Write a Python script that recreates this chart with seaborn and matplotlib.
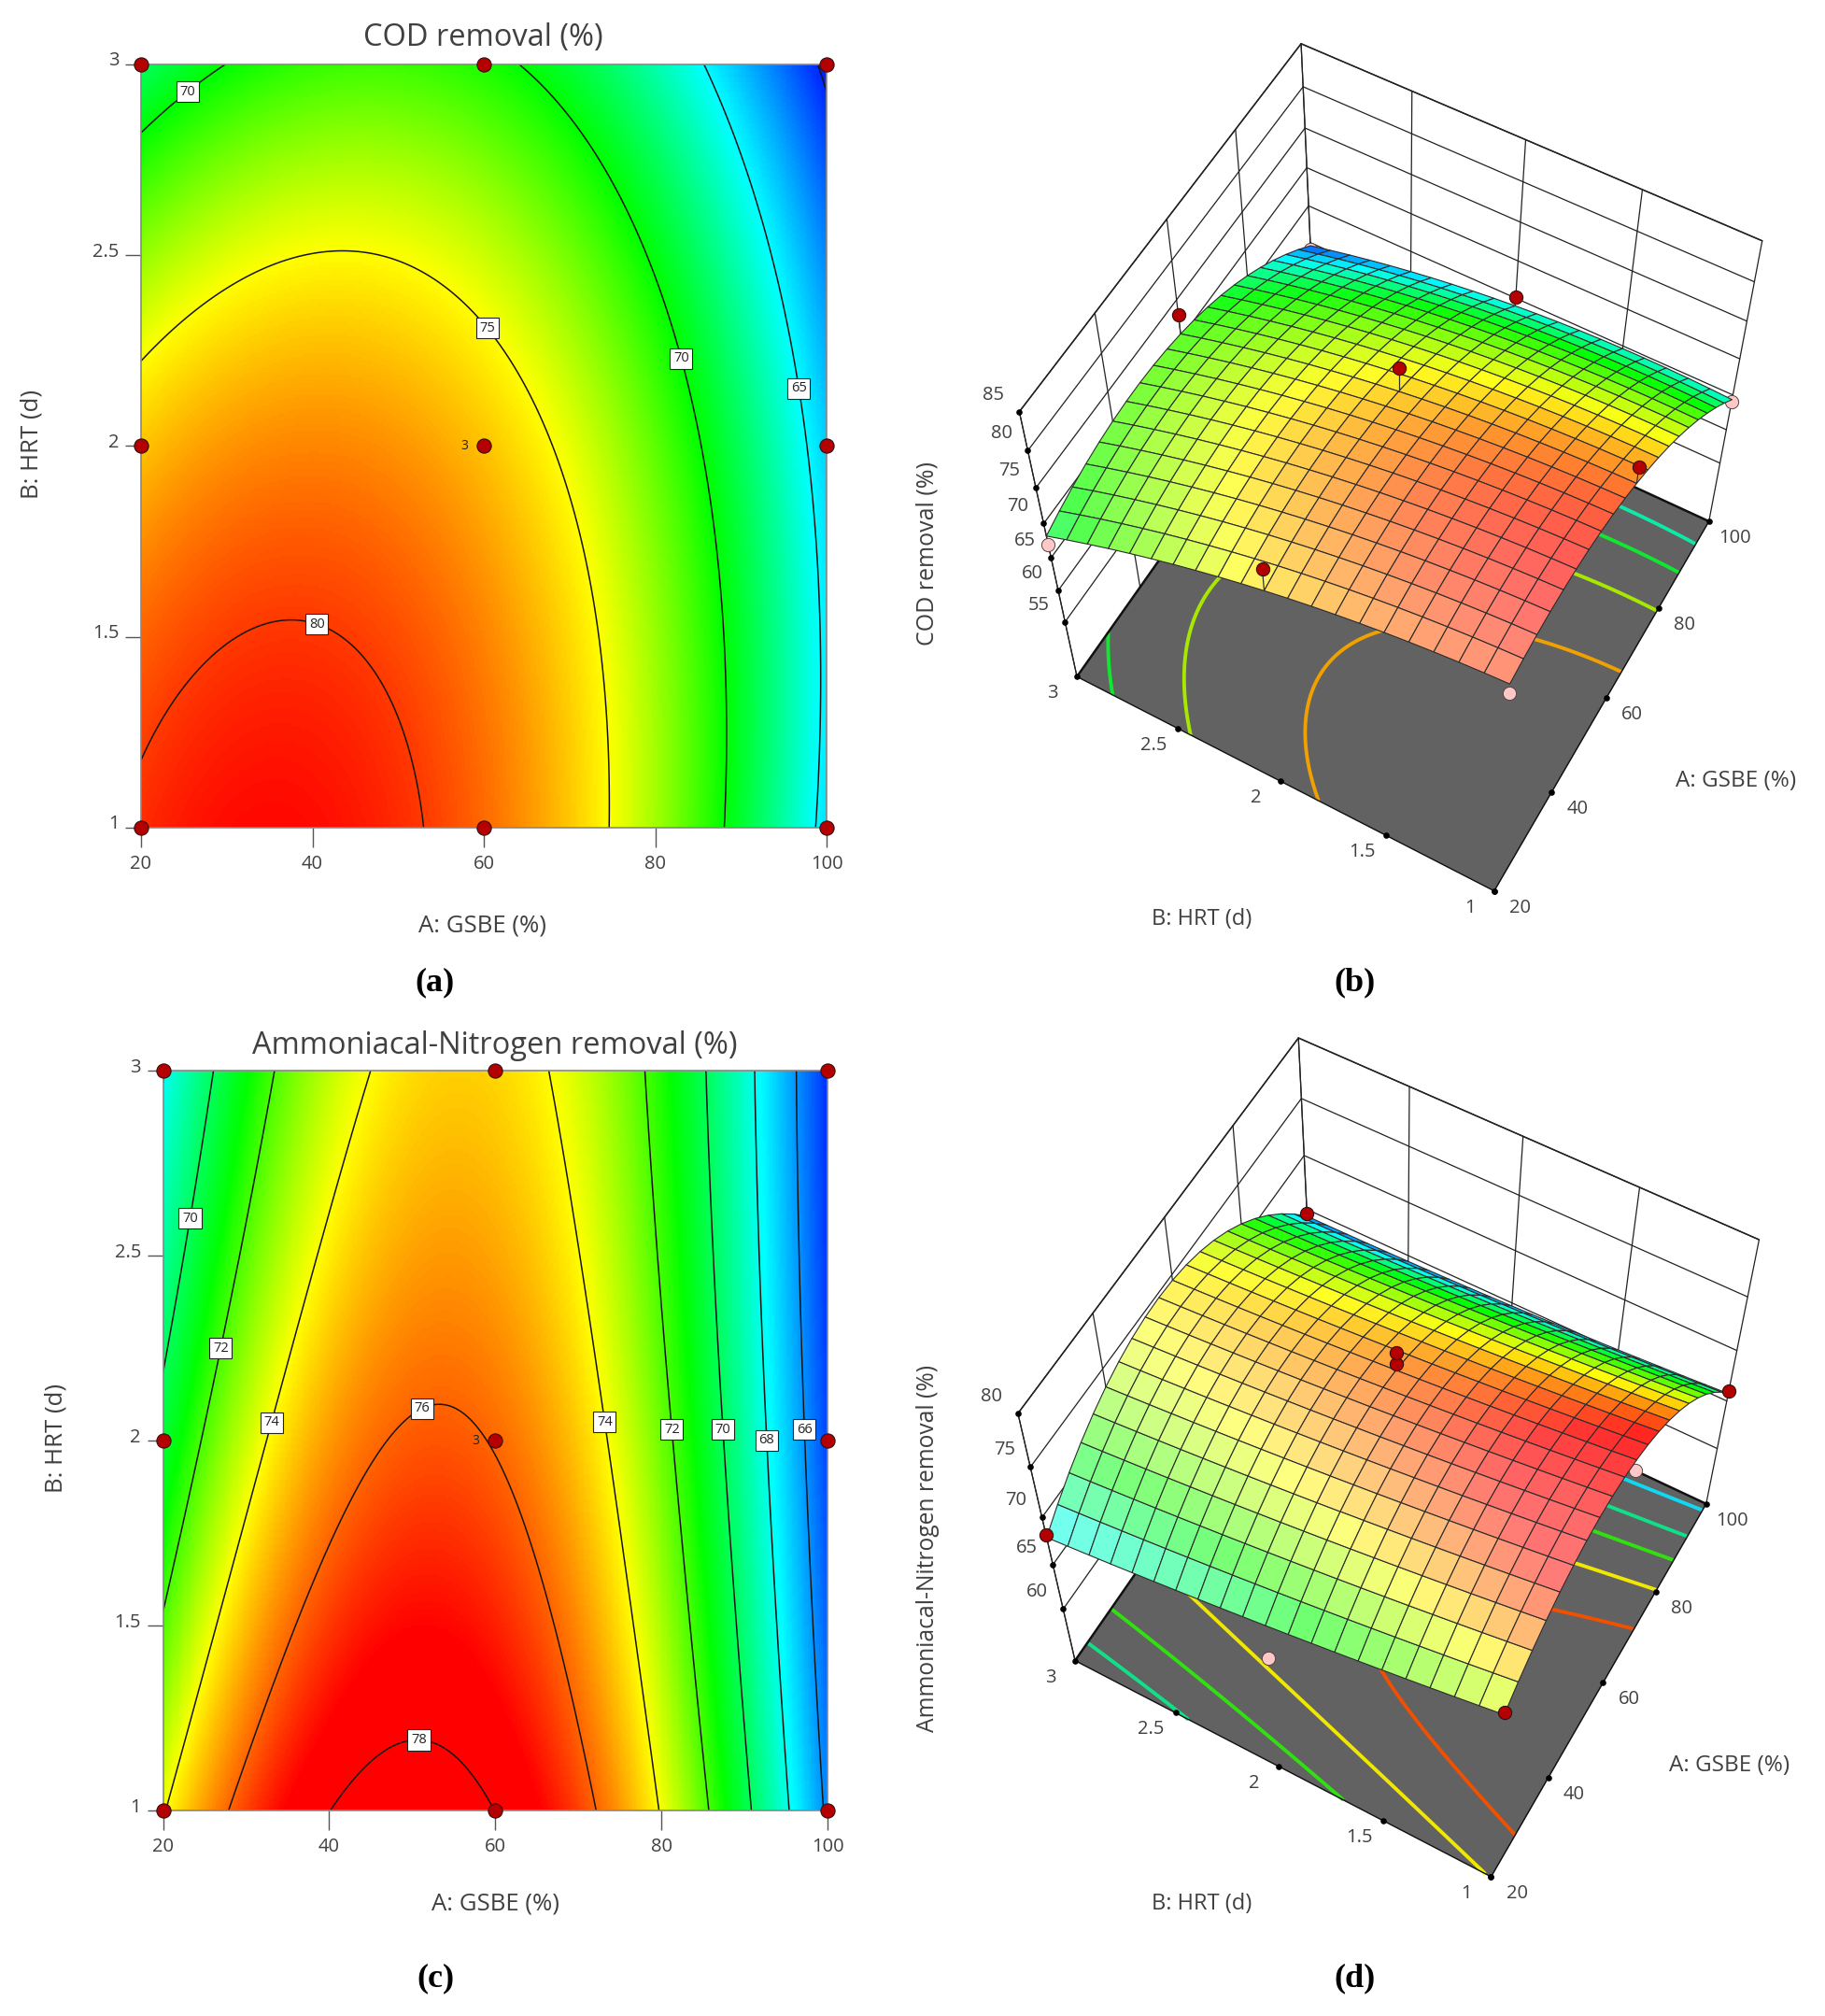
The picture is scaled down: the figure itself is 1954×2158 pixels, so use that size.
import numpy as np
import seaborn as sns
import matplotlib
matplotlib.use('Agg')
import matplotlib.pyplot as plt
from matplotlib.colors import LinearSegmentedColormap
from matplotlib.transforms import ScaledTranslation
from mpl_toolkits.mplot3d import proj3d

W, H = 1954, 2158

gsbe_grid = [20, 40, 60, 80, 100]
hrt_grid = [1, 1.5, 2, 2.5, 3]

# responses, rows are HRT, columns are GSBE
cod_table = [
    [80.4, 81.2, 78.8, 73.2, 64.4],
    [78.9, 80.1, 78.1, 72.9, 64.5],
    [76.5, 78.1, 76.5, 71.8, 64.0],
    [72.9, 75.0, 74.0, 69.8, 62.3],
    [68.2, 71.0, 70.5, 66.7, 59.5],
]
nh3_table = [
    [73.9, 78.0, 78.0, 73.9, 65.8],
    [72.1, 76.6, 76.9, 73.0, 65.1],
    [70.5, 75.3, 75.9, 72.4, 64.7],
    [69.2, 74.2, 75.2, 71.9, 64.5],
    [67.9, 73.3, 74.5, 71.5, 64.3],
]

# design points
design_gsbe = [20, 60, 100, 20, 60, 100, 20, 60, 100]
design_hrt = [1, 1, 1, 2, 2, 2, 3, 3, 3]
cod_actual = [79.0, 81.0, 64.0, 79.5, 79.5, 65.1, 67.0, 73.0, 59.0]
nh3_actual = [74.2, 77.0, 66.0, 67.0, 76.5, 64.0, 68.2, 73.5, 64.6]
nh3_extra_center = 77.5

cod_levels = [60, 65, 70, 75, 80]
nh3_levels = [66, 68, 70, 72, 74, 76, 78]
# response values that sit on blue, cyan, green, yellow and red
cod_color_nodes = [59, 65, 70, 75, 81.5]
nh3_color_nodes = [63.5, 67.7, 71.2, 74, 77.3]
cod_surface_nodes = [59, 65, 70, 76, 81.5]
nh3_surface_nodes = [63.5, 67.7, 71.2, 74.5, 77.6]

# contour lines on the floor of the 3D plots
cod_floor_levels = [67, 70, 73.4, 77.5]
cod_floor_colors = ['#10e8a8', '#10e830', '#a8e800', '#f0a000']
nh3_floor_levels = [66.5, 69.3, 71.5, 73.8, 76.1]
nh3_floor_colors = ['#10d8f0', '#10e088', '#30e010', '#f0e800', '#f05000']

cod_label_pos = [(25, 2.94), (61, 2.32), (83.2, 2.23), (96.6, 2.15), (40.9, 1.56)]
nh3_label_pos = [(23.4, 2.6), (26.9, 2.25), (32.8, 2.05), (50.9, 2.10), (50.9, 1.23),
                 (73.2, 2.05), (81.3, 2.03), (87.3, 2.03), (92.5, 2.0), (96.9, 2.03)]

gsbe_ticks = [20, 40, 60, 80, 100]
hrt_ticks = [1, 1.5, 2, 2.5, 3]
cod_ticks = [55, 60, 65, 70, 75, 80, 85]
nh3_ticks = [60, 65, 70, 75, 80]

sns.set_theme(style='white')
plt.rcParams['font.family'] = ['Open Sans', 'DejaVu Sans']
text_color = '#404040'

rainbow = LinearSegmentedColormap.from_list(
    'design', ['#0000ff', '#00ffff', '#00ff00', '#ffff00', '#ff0000'])


def surface_from_table(table):
    # quadratic response surface through the table so it can be drawn on a finer mesh
    aa, bb = np.meshgrid(gsbe_grid, hrt_grid)
    vander = np.polynomial.polynomial.polyvander2d((aa.ravel() - 60) / 40, bb.ravel() - 2, [2, 2])
    coef = np.linalg.lstsq(vander, np.array(table).ravel(), rcond=None)[0]

    def evaluate(a, b):
        a, b = np.asarray(a, dtype=float), np.asarray(b, dtype=float)
        v = np.polynomial.polynomial.polyvander2d((a - 60) / 40, b - 2, [2, 2])
        return v @ coef
    return evaluate


def color_pos(z, nodes):
    return np.interp(z, nodes, [0, 0.25, 0.5, 0.75, 1])


def put_text(x, y, s, **kw):
    kw.setdefault('color', text_color)
    kw.setdefault('ha', 'center')
    kw.setdefault('va', 'center')
    fig.text(x / W, 1 - y / H, s, **kw)


def draw_contour_panel(box, table, levels, nodes, label_pos):
    x0, y0, x1, y1 = box
    rect = [x0 / W, 1 - y1 / H, (x1 - x0) / W, (y1 - y0) / H]
    func = surface_from_table(table)

    a_fine = np.linspace(20, 100, 300)
    b_fine = np.linspace(1, 3, 300)
    aa, bb = np.meshgrid(a_fine, b_fine)
    zz = func(aa, bb)

    ax_map = fig.add_axes(rect)
    sns.heatmap(color_pos(zz, nodes)[::-1], cmap=rainbow, vmin=0, vmax=1, cbar=False,
                xticklabels=False, yticklabels=False, ax=ax_map, rasterized=True)
    ax_map.set_axis_off()

    ax = fig.add_axes(rect)
    ax.patch.set_visible(False)
    ax.set_xlim(20, 100)
    ax.set_ylim(1, 3)
    cs = ax.contour(aa, bb, zz, levels=levels, colors='#151515', linewidths=1.1)
    labels = ax.clabel(cs, inline=False, fontsize=10.5, fmt='%d', manual=label_pos)
    for lab in labels:
        lab.set_rotation(0)
        lab.set_color('#222222')
        lab.set_bbox(dict(boxstyle='square,pad=0.25', fc='white', ec='#222222', lw=0.8))

    sns.scatterplot(x=design_gsbe, y=design_hrt, ax=ax, s=120, color='#b40000', edgecolor='#301010',
                    linewidth=0.8, clip_on=False, zorder=6, legend=False)
    ax.text(60, 2, '3', transform=ax.transData + ScaledTranslation(-0.21, 0, fig.dpi_scale_trans),
            fontsize=10, ha='center', va='center', color='#222222')

    ax.set_xticks(gsbe_ticks, [str(t) for t in gsbe_ticks])
    ax.set_yticks(hrt_ticks, ['1', '1.5', '2', '2.5', '3'])
    ax.tick_params(axis='x', length=15, width=1, color='#555555', pad=6, labelsize=14.5, labelcolor=text_color)
    ax.tick_params(axis='y', length=12, width=1, color='#555555', pad=5, labelsize=14.5, labelcolor=text_color)
    ax.tick_params(left=True, bottom=True)
    for t in ax.get_yticklabels():
        t.set_transform(t.get_transform() + ScaledTranslation(0, 0.06, fig.dpi_scale_trans))
    for s in ax.spines.values():
        s.set_color('#888888')
        s.set_linewidth(1.2)
    ax.grid(False)


def draw_3d_panel(view, table, floor_levels, floor_colors, nodes, zlim, zticks, actual, extra_center=None):
    cx, cy = view['center']
    size = 900
    ax = fig.add_axes([(cx - size / 2) / W, 1 - (cy + size / 2) / H, size / W, size / H],
                      projection='3d', computed_zorder=False)
    ax.set_xlim(20, 100, view_margin=0)
    ax.set_ylim(1, 3, view_margin=0)
    ax.set_zlim(zlim[0], zlim[1], view_margin=0)
    ax.view_init(elev=view['elev'], azim=view['azim'])
    ax.set_proj_type('persp', focal_length=view['focal'])
    ax.set_box_aspect((1, view['yb'], view['zb']), zoom=view['zoom'])
    ax.set_axis_off()
    ax.patch.set_visible(False)

    func = surface_from_table(table)
    zb, zt = zlim
    wall = dict(color='#222222', lw=0.9, zorder=0)

    # walls at the far side of the box
    for a in gsbe_ticks:
        ax.plot([a, a], [3, 3], [zb, zt], **wall)
    for b in hrt_ticks:
        ax.plot([100, 100], [b, b], [zb, zt], **wall)
    for z in zticks:
        ax.plot([20, 100, 100], [3, 3, 1], [z, z, z], **wall)
    ax.plot([20, 100, 100], [3, 3, 1], [zt, zt, zt], color='#222222', lw=1.1, zorder=0)

    # grey floor with the contour lines on it
    ax.plot_surface(np.array([[20, 100], [20, 100]]), np.array([[1, 1], [3, 3]]), np.full((2, 2), zb),
                    color='#626262', shade=False, zorder=1, linewidth=0)
    a_fine = np.linspace(20, 100, 200)
    b_fine = np.linspace(1, 3, 200)
    aa, bb = np.meshgrid(a_fine, b_fine)
    zz = func(aa, bb)
    floor = ax.contour(aa, bb, zz, levels=floor_levels, zdir='z', offset=zb,
                       colors=floor_colors, linewidths=2.8)
    floor.set_zorder(2)

    # box edges on the floor
    edge = dict(color='#111111', lw=1.0, zorder=2)
    ax.plot([20, 100], [1, 1], [zb, zb], **edge)
    ax.plot([20, 20], [1, 3], [zb, zb], **edge)
    ax.plot([100, 100], [1, 3], [zb, zb], color='#111111', lw=1.8, zorder=2)
    ax.plot([20, 100], [3, 3], [zb, zb], color='#111111', lw=1.8, zorder=2)
    ax.plot([20, 20], [3, 3], [zb, zt], color='#222222', lw=0.9, zorder=0)

    # points under the surface come first
    fitted = func(design_gsbe, design_hrt)
    da, db, dz = np.array(design_gsbe), np.array(design_hrt), np.array(actual)
    above = dz >= fitted
    ax.scatter(da[~above], db[~above], dz[~above], s=105, color='#ffc8c8', edgecolor='#554444',
               linewidth=0.7, depthshade=False, zorder=3)

    a_mesh = np.linspace(20, 100, 21)
    b_mesh = np.linspace(1, 3, 21)
    am, bm = np.meshgrid(a_mesh, b_mesh)
    zm = func(am, bm)
    colors = rainbow(color_pos(zm, nodes))

    # the faces turned to the viewer look washed out, the far slope stays saturated
    dz_a = np.gradient(zm, a_mesh, axis=1) * 80 / (zt - zb)
    dz_b = np.gradient(zm, b_mesh, axis=0) * 2 / (zt - zb)
    length = np.sqrt(dz_a ** 2 + dz_b ** 2 + 1)
    el, az = np.radians(view['elev']), np.radians(view['azim'])
    facing = (-dz_a * np.cos(el) * np.cos(az) - dz_b * np.cos(el) * np.sin(az) + np.sin(el)) / length
    white = 0.55 * np.clip((facing - 0.2) / 0.75, 0, 1) ** 2
    colors[..., :3] = colors[..., :3] * (1 - white[..., None]) + white[..., None]

    ax.plot_surface(am, bm, zm, facecolors=colors, rstride=1, cstride=1, shade=False,
                    edgecolor='#2c2c2c', linewidth=0.8, zorder=4)

    for a, b, z, f in zip(da[above], db[above], dz[above], fitted[above]):
        ax.plot([a, a], [b, b], [f, z], color='#333333', lw=0.9, zorder=5)
    ax.scatter(da[above], db[above], dz[above], s=105, color='#b40000', edgecolor='#301010',
               linewidth=0.8, depthshade=False, zorder=6)
    if extra_center is not None:
        ax.scatter([60], [2], [extra_center], s=105, color='#b40000', edgecolor='#301010',
                   linewidth=0.8, depthshade=False, zorder=6)

    # tick dots
    dots = dict(color='black', s=14, depthshade=False, zorder=2.5)
    ax.scatter(gsbe_ticks, [1] * 5, [zb] * 5, **dots)
    ax.scatter([20] * 5, hrt_ticks, [zb] * 5, **dots)
    ax.scatter([20] * len(zticks), [3] * len(zticks), zticks, **dots)

    for child in ax.get_children():
        child.set_clip_on(False)

    M = ax.get_proj()

    def tick_text(x, y, z, s, dx, dy):
        x2, y2, _ = proj3d.proj_transform(x, y, z, M)
        ax.annotate(s, (x2, y2), xytext=(dx, dy), textcoords='offset pixels', ha='center', va='center',
                    fontsize=14.5, color=text_color, annotation_clip=False)

    for a in gsbe_ticks:
        tick_text(a, 1, zb, str(a), 28, -18)
    for b, s in zip(hrt_ticks, ['1', '1.5', '2', '2.5', '3']):
        tick_text(20, b, zb, s, -26, -18)
    for z in zticks:
        tick_text(20, 3, z, str(z), -28, 18)


fig = plt.figure(figsize=(W / 100, H / 100), dpi=100, facecolor='white')

view_b = dict(elev=57.47, azim=-150.791, focal=0.5809, yb=0.9999, zb=1.0056, zoom=1.0054, center=(1485.4, 517.4))
view_d = dict(elev=58.995, azim=-150.771, focal=0.5810, yb=1.0004, zb=0.9865, zoom=0.9970, center=(1482.6, 1578.3))

draw_contour_panel((151, 69, 885, 886), cod_table, cod_levels, cod_color_nodes, cod_label_pos)
draw_contour_panel((174.5, 1146, 886, 1938), nh3_table, nh3_levels, nh3_color_nodes, nh3_label_pos)
draw_3d_panel(view_b, cod_table, cod_floor_levels, cod_floor_colors, cod_surface_nodes, (45.8, 85), cod_ticks, cod_actual)
draw_3d_panel(view_d, nh3_table, nh3_floor_levels, nh3_floor_colors, nh3_surface_nodes, (53.8, 80), nh3_ticks,
              nh3_actual, nh3_extra_center)

put_text(517, 41, 'COD removal (%)', fontsize=23.5)
put_text(517, 991, 'A: GSBE (%)', fontsize=18.5)
put_text(34, 475, 'B: HRT (d)', fontsize=18.5, rotation=90)
put_text(530, 1119, 'Ammoniacal-Nitrogen removal (%)', fontsize=23.5)
put_text(530, 2038, 'A: GSBE (%)', fontsize=18.5)
put_text(60, 1539, 'B: HRT (d)', fontsize=18.5, rotation=90)

put_text(1859, 836, 'A: GSBE (%)', fontsize=17.5)
put_text(1287, 984, 'B: HRT (d)', fontsize=17)
put_text(993, 592, 'COD removal (%)', fontsize=18, rotation=90)
put_text(1852, 1890, 'A: GSBE (%)', fontsize=17.5)
put_text(1287, 2038, 'B: HRT (d)', fontsize=17)
put_text(993, 1657, 'Ammoniacal-Nitrogen removal (%)', fontsize=17.7, rotation=90)

caption = dict(fontsize=26, fontweight='bold', color='black', family='Liberation Serif')
put_text(466, 1052, '(a)', **caption)
put_text(1450, 1052, '(b)', **caption)
put_text(466, 2118, '(c)', **caption)
put_text(1450, 2118, '(d)', **caption)

fig.savefig('out.png', dpi=100)
